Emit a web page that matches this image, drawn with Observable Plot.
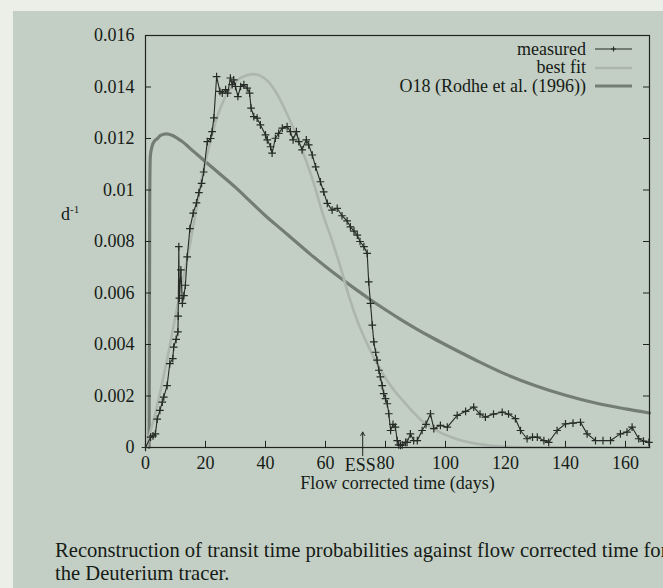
<!DOCTYPE html>
<html>
<head>
<meta charset="utf-8">
<script src="https://cdn.jsdelivr.net/npm/d3@7"></script>
<script src="https://cdn.jsdelivr.net/npm/@observablehq/plot@0.6"></script>
<style>
  html, body { margin: 0; padding: 0; width: 663px; height: 588px; overflow: hidden; background: #eceee8; }
  #panel { position: absolute; left: 13px; top: 11px; width: 650px; height: 577px; background: #c3cfc4; }
  #chart { position: absolute; left: 0; top: 0; }
  .serif { font-family: "Liberation Serif", "DejaVu Serif", serif; color: #161b17; }
  #ylab { position: absolute; left: 61px; top: 203px; font-size: 18px; }
  #ylab sup { font-size: 11px; }
  #legend { position: absolute; left: 300px; top: 39.5px; width: 340px; font-size: 18px; }
  .lrow { position: absolute; right: 0; height: 19px; display: flex; align-items: center; }
  .lrow span { margin-right: 9px; white-space: nowrap; }
  #caption { position: absolute; left: 55px; top: 539px; font-size: 20.6px; line-height: 23px; white-space: nowrap; }
</style>
</head>
<body>
<div id="panel"></div>
<div id="chart"></div>
<div id="ylab" class="serif">d<sup>-1</sup></div>
<div id="legend" class="serif"></div>
<div id="caption" class="serif"></div>
<script>
// ---- data ----
const seriesNames = ["measured", "best fit", "O18 (Rodhe et al. (1996))"];
const xTicks = [0, 20, 40, 60, 80, 100, 120, 140, 160];
const yTicks = [0, 0.002, 0.004, 0.006, 0.008, 0.01, 0.012, 0.014, 0.016];
const yTickLabels = ["0", "0.002", "0.004", "0.006", "0.008", "0.01", "0.012", "0.014", "0.016"];
const xDomain = [0, 168];
const yDomain = [0, 0.016];
const essDay = 72.4;
const essLabel = "ESS";
const xLabel = "Flow corrected time (days)";
const yLabel = "d-1";
const captionLines = [
  "Reconstruction of transit time probabilities against flow corrected time for",
  "the Deuterium tracer."
];

const measuredDays = [0,1.7,2.5,3.3,3.9,4.8,5.6,6.1,7.2,8.1,9.1,9.4,10.2,10.8,10.9,11.1,11.3,11.8,12.3,12.8,13.3,13.9,14.8,15.9,17,17.8,18.7,19.4,20.6,21.7,22.2,22.8,23.7,24.8,25.6,26.7,27.4,28.3,28.9,29.4,30,30.8,31.7,32.8,33.9,34.7,35.2,36.1,37.2,38.3,40,40.6,41.7,42.2,43.3,44.4,45.6,47.2,48.3,49.2,50.3,51.1,52.2,53.6,54.4,55.6,56.7,58.3,59.4,60.6,62.2,63.9,65.5,67.2,68.3,69.5,70.6,71.5,72.8,73.9,74.4,75,75.6,76.1,76.7,77.2,77.8,78.3,78.9,79.4,80,80.6,81.1,81.7,82.5,83.3,83.9,84.4,85,85.6,86.7,87.2,88.3,89.4,90.6,92.2,93.5,95,96.1,98.3,100.6,103.9,106.7,109.4,111.5,113.3,116,118.9,121,123.3,125,127.2,129,130.6,132.8,134.4,137.2,140,142.5,145,147.2,150,152.5,155,158.3,160.5,162.2,164.4,166,167.8];
const measuredValues = [0,0.0004,0.00045,0.00053,0.0011,0.00144,0.00176,0.00196,0.0024,0.00326,0.00345,0.0039,0.0042,0.00449,0.0051,0.0078,0.0058,0.0069,0.0056,0.0059,0.0063,0.0074,0.0085,0.0091,0.0095,0.0099,0.01026,0.0107,0.01188,0.012,0.01227,0.0128,0.0144,0.01383,0.01376,0.0139,0.01376,0.01435,0.01409,0.01428,0.01402,0.01363,0.01402,0.01409,0.01396,0.01376,0.01318,0.01285,0.01279,0.01253,0.01214,0.01195,0.01168,0.01143,0.01201,0.0122,0.0124,0.01246,0.01227,0.01195,0.01227,0.01188,0.01156,0.01195,0.01175,0.01136,0.0109,0.01032,0.00993,0.00948,0.00922,0.00929,0.009,0.0088,0.00857,0.0084,0.00825,0.008,0.0078,0.00754,0.00643,0.0056,0.00475,0.0041,0.0037,0.00339,0.003,0.00274,0.0024,0.00209,0.0019,0.0017,0.00131,0.00066,0.0009,0.00079,0.00027,0.0001,0.00008,0.0001,0.0002,0.0002,0.00053,0.00027,0.00027,0.00066,0.0009,0.00131,0.00073,0.00086,0.00079,0.00125,0.0014,0.00157,0.0013,0.00118,0.0013,0.00137,0.0013,0.00112,0.00066,0.00034,0.0004,0.0004,0.00027,0.0002,0.00066,0.00092,0.00095,0.00098,0.00053,0.00027,0.00027,0.00027,0.00053,0.0006,0.00079,0.00034,0.00025,0.0002];

const fitDays = [0.5,1,3,5,7,9,11,13,15,17,19,21,23,25,28,31,34,36,38,41,44,47,50,53,56,59,62,65,68,71,74,77,80,83,86,89,92,95,98,102,106,110,115,120,130,168];
const fitValues = [0,0.0003,0.0012,0.0022,0.0033,0.0045,0.0057,0.0068,0.008,0.0093,0.0106,0.0116,0.0125,0.0132,0.0139,0.0143,0.01447,0.0145,0.01445,0.0142,0.0137,0.013,0.0122,0.0113,0.0103,0.0091,0.0081,0.007,0.0058,0.0048,0.004,0.0033,0.0027,0.0022,0.0018,0.0014,0.00105,0.0008,0.0006,0.0004,0.00025,0.00015,0.00008,0.00003,0,0];

const o18Days = [1.2,1.4,1.6,2.2,3,4,5,7,9,12,16,20,25,30,35,40,45,50,55,60,65,70,75,80,85,90,95,100,110,120,130,140,150,160,168];
const o18Values = [0,0.0095,0.0113,0.0117,0.0119,0.012,0.01212,0.01218,0.01212,0.0119,0.0115,0.0111,0.0106,0.0101,0.00955,0.009,0.0085,0.008,0.0075,0.00703,0.00658,0.00615,0.00574,0.00535,0.00498,0.00463,0.0043,0.00399,0.0034,0.00285,0.0024,0.00203,0.00173,0.0015,0.00134];

// ---- styles ----
const colMeasured = "#252b26";
const colFit = "#adb6ae";
const colO18 = "#737d75";
const colAxis = "#1f2420";
const colText = "#161b17";
const tickLenY = 0.00024; // inward tick length in y units (~6px)
const tickLenX = 2;       // inward tick length in x units (~6px)

const measured = measuredDays.map((d, i) => ({day: d, v: measuredValues[i]}));
const fit = fitDays.map((d, i) => ({day: d, v: fitValues[i]}));
const o18 = o18Days.map((d, i) => ({day: d, v: o18Values[i]}));

const fmt = d => yTickLabels[yTicks.findIndex(t => Math.abs(t - d) < 1e-9)];

const chart = Plot.plot({
  width: 663,
  height: 500,
  marginLeft: 145,
  marginRight: 14,
  marginTop: 35,
  marginBottom: 53,
  style: {fontFamily: '"Liberation Serif", serif', fontSize: "18px", color: colText, background: "transparent", overflow: "visible"},
  x: {domain: xDomain, label: null},
  y: {domain: yDomain, label: null},
  marks: [
    Plot.line(o18, {x: "day", y: "v", stroke: colO18, strokeWidth: 3.2, curve: "monotone-x"}),
    Plot.line(fit, {x: "day", y: "v", stroke: colFit, strokeWidth: 2.6, curve: "monotone-x"}),
    Plot.frame({stroke: colAxis, strokeWidth: 1.2}),
    Plot.ruleX(xTicks.filter(d => d > 0), {x: d => d, y1: 0, y2: tickLenY, stroke: colAxis}),
    Plot.ruleY(yTicks.filter(d => d > 0), {y: d => d, x1: 0, x2: tickLenX, stroke: colAxis}),
    Plot.ruleY(yTicks.filter(d => d > 0), {y: d => d, x1: xDomain[1] - tickLenX, x2: xDomain[1], stroke: colAxis}),
    Plot.line(measured, {x: "day", y: "v", stroke: colMeasured, strokeWidth: 1.1}),
    Plot.dot(measured, {x: "day", y: "v", symbol: "plus", r: 2.6, stroke: colMeasured, strokeWidth: 1.2}),
    Plot.arrow([essDay], {x1: d => d, x2: d => d, y1: -0.00032, y2: 0.0006, stroke: colAxis, strokeWidth: 1, headLength: 6}),
    Plot.axisX({ticks: xTicks, tickSize: 0, tickPadding: 9, tickFormat: d => String(d), fontSize: 18, fill: colText, label: xLabel, labelArrow: "none", labelAnchor: "center", labelOffset: 41}),
    Plot.axisY({ticks: yTicks, tickSize: 0, tickPadding: 11, tickFormat: fmt, fontSize: 18, fill: colText, label: null}),
    Plot.text([essLabel], {x: essDay, y: 0, dy: 18, dx: -2.5, fontSize: 18, fill: colText, text: d => d})
  ]
});
document.getElementById("chart").appendChild(chart);

// y label with superscript
document.getElementById("ylab").innerHTML = yLabel.slice(0, 1) + "<sup>" + yLabel.slice(1) + "</sup>";

// legend
const legend = document.getElementById("legend");
const legendStyles = [
  {stroke: colMeasured, w: 1.1, marker: true},
  {stroke: colFit, w: 2.6, marker: false},
  {stroke: colO18, w: 3.2, marker: false}
];
seriesNames.forEach((name, i) => {
  const row = document.createElement("div");
  row.className = "lrow";
  row.style.top = (i * 18.7) + "px";
  const s = legendStyles[i];
  row.innerHTML = `<span>${name}</span><svg width="37" height="10"><line x1="0" x2="37" y1="5" y2="5" stroke="${s.stroke}" stroke-width="${s.w}"/>${s.marker ? `<path d="M18.5,2.4V7.6M15.9,5H21.1" stroke="${s.stroke}" stroke-width="1.1"/>` : ""}</svg>`;
  row.style.right = "8px";
  legend.appendChild(row);
});

document.getElementById("caption").innerHTML = captionLines.join("<br>");
</script>
</body>
</html>
